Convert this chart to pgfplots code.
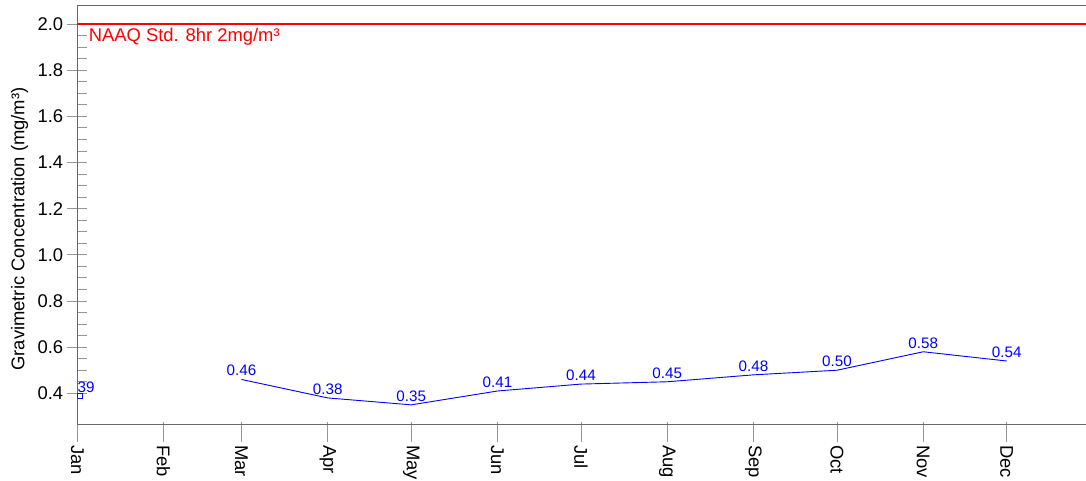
\documentclass[border=0pt]{standalone}
\usepackage{pgfplots}
\pgfplotsset{compat=1.18}
\usepackage{fontspec}
\setmainfont{Liberation Sans}
\definecolor{axgray}{RGB}{105,105,105}
\definecolor{tkgray}{RGB}{150,150,150}
\begin{document}
\begin{tikzpicture}
\begin{axis}[
  scale only axis, width=1008.7pt, height=419pt,
  xmin=0, xmax=362.5, ymin=0.2657, ymax=2.081,
  axis x line*=bottom, axis y line*=left,
  axis line style={axgray, line width=1pt, -},
  tick align=center,
  major tick length=20pt, minor tick length=10pt,
  tick style={tkgray, line width=0.8pt},
  minor y tick style={xshift=5pt},
  major x tick style={yshift=-8pt},
  xtick={0,31,59,90,120,151,181,212,243,273,304,334},
  xticklabels={Jan,Feb,Mar,Apr,May,Jun,Jul,Aug,Sep,Oct,Nov,Dec},
  ytick={0.4,0.6,0.8,1.0,1.2,1.4,1.6,1.8,2.0},
  minor y tick num=3,
  /pgf/number format/assume math mode=true,
  yticklabel={\pgfmathprintnumber[fixed,fixed zerofill,precision=1]{\tick}},
  tick label style={font=\fontsize{18.4}{22}\selectfont, black},
  yticklabel style={anchor=east, inner sep=0pt, xshift=-4pt},
  xticklabel style={yshift=-10.5pt, rotate=-90, anchor=west, inner sep=0pt},
  ylabel={Gravimetric Concentration (mg/m³)},
  ylabel style={at={(axis description cs:-0.0484,0.466)}, anchor=south, inner sep=0pt, font=\fontsize{18.4}{22}\selectfont},
  clip marker paths=true,
  every node near coord/.append style={font=\fontsize{15.2}{18}\selectfont, blue, inner sep=0pt, yshift=3pt, anchor=south},
]
\addplot[color=red, draw=red, line width=1.3pt, mark=none, forget plot] coordinates {(0,2) (362.5,2)};
\addplot[blue, mark=square, mark size=2.5pt, mark options={line width=0.8pt, solid}, only marks,
  nodes near coords={\pgfmathprintnumber[fixed,fixed zerofill,precision=2]{\pgfplotspointmeta}}]
  coordinates {(0.9,0.39)};
\addplot[blue, line width=0.9pt, mark=none,
  nodes near coords={\pgfmathprintnumber[fixed,fixed zerofill,precision=2]{\pgfplotspointmeta}}]
  coordinates {(59,0.46) (90,0.38) (120,0.35) (151,0.41) (181,0.44) (212,0.45) (243,0.48) (273,0.50) (304,0.58) (334,0.54)};
\draw[axgray, line width=1pt] (rel axis cs:0,1) -- (rel axis cs:1,1);
\node[anchor=north west, inner sep=0pt, text=red, font=\fontsize{18.4}{22}\selectfont] at ([xshift=11.3pt,yshift=-4.3pt]axis cs:0,2) {NAAQ Std. 8hr 2mg/m³};
\end{axis}
\pgfresetboundingbox
\path ([xshift=-77.3pt,yshift=-55.7pt]current axis.south west) rectangle ([yshift=5.3pt]current axis.north east);
\end{tikzpicture}
\end{document}
